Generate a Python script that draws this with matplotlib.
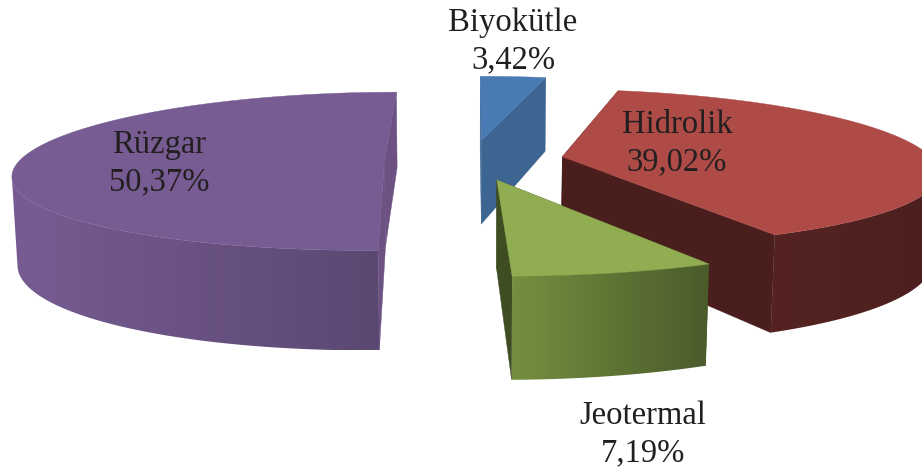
import numpy as np
import matplotlib
matplotlib.use("Agg")
import matplotlib.pyplot as plt
from matplotlib.colors import to_rgb
from matplotlib.patches import Polygon

# dados
categorias = ["Biyokütle", "Hidrolik", "Jeotermal", "Rüzgar"]
valores = [3.42, 39.02, 7.19, 50.37]

# cores: topo, parede esquerda, parede direita, face de corte
cor_topo = ["#4a7ab3", "#ae4b47", "#90ad52", "#775c93"]
cor_esq = ["#3d6592", "#552422", "#748f40", "#775c93"]
cor_dir = ["#3d6592", "#4c1f1e", "#4a5b2a", "#5b4872"]
cor_corte = ["#3d6592", "#4b1e1e", "#3f4d22", "#6b5283"]
# ordem de desenho (de tras para frente)
ordem = [0, 1, 3, 2]

# centro dos rotulos em pixels
pos_rotulo = [(513, 41), (677, 143), (643, 434), (159, 163)]
# ajuste fino de cada fatia em pixels e largura relativa
ajuste = [(-7, -3), (2, -1), (-4, 3), (-14, 0)]
largura = [1.0, 1.0, 1.0, 0.985]

# parametros da projecao
CX, CY = 480.0, 160.0
SX, SY = 370.0, 77.5
PX, PY = 0.17, 0.14
ALTURA = 86.0
Q = 0.012
EXPLODE = 0.22

plt.rcParams['font.family'] = ['Liberation Serif', 'DejaVu Serif']

fig = plt.figure(figsize=(9.22, 4.76), dpi=100)
ax = fig.add_axes([0, 0, 1, 1])


# Projeta um ponto do disco (x, y) na tela; z=0 topo, z=1 base
def projeta(x, y, z=0.0):
    sx = CX + SX * x / (1 + PX * y + Q * z)
    sy = CY - SY * y / (1 + PY * y) + ALTURA * z / (1 + PY * y)
    return sx, sy


def poligono(pontos, cor, zorder):
    ax.add_patch(Polygon(pontos, closed=True, facecolor=cor, edgecolor=cor,
                         lw=0.3, zorder=zorder))


inicio = np.cumsum([0] + valores[:-1]) / sum(valores) * 2 * np.pi
fim = np.cumsum(valores) / sum(valores) * 2 * np.pi

z = 1
for i in ordem:
    a0, a1 = inicio[i], fim[i]
    meio = (a0 + a1) / 2
    ox = EXPLODE * np.sin(meio)
    oy = EXPLODE * np.cos(meio)
    dx, dy = ajuste[i]
    t = np.linspace(a0, a1, 200)
    xs = ox + largura[i] * np.sin(t)
    ys = oy + np.cos(t)

    def ponto(x, y, nivel=0.0):
        px, py = projeta(x, y, nivel)
        return px + dx, py + dy

    # faces de corte
    for a in (a0, a1):
        bx, by = ox + largura[i] * np.sin(a), oy + np.cos(a)
        poligono([ponto(ox, oy), ponto(bx, by), ponto(bx, by, 1), ponto(ox, oy, 1)],
                 cor_corte[i], z)
        z += 1

    # parede externa com gradiente horizontal, so ate o extremo lateral da fatia
    tela = np.array([ponto(a, b)[0] for a, b in zip(xs, ys)])
    frente = np.cos(t) < 0.05
    if np.sin(meio) < 0:
        frente &= t <= t[np.argmin(tela)]
    else:
        frente &= t >= t[np.argmax(tela)]
    if frente.any():
        cima = [ponto(a, b) for a, b in zip(xs[frente], ys[frente])]
        baixo = [ponto(a, b, 1) for a, b in zip(xs[frente], ys[frente])]
        contorno = cima + baixo[::-1]
        c = np.array(contorno)
        e, d = c[:, 0].min(), c[:, 0].max()
        f = np.linspace(0, 1, 256)[None, :, None]
        c0, c1 = np.array(to_rgb(cor_esq[i])), np.array(to_rgb(cor_dir[i]))
        img = c0[None, None, :] + (c1 - c0)[None, None, :] * f
        im = ax.imshow(img, extent=(e, d, c[:, 1].max(), c[:, 1].min()),
                       aspect="auto", zorder=z, interpolation="bilinear")
        im.set_clip_path(Polygon(contorno, closed=True, transform=ax.transData))
        z += 1

    # topo
    topo = [ponto(ox, oy)] + [ponto(a, b) for a, b in zip(xs, ys)]
    poligono(topo, cor_topo[i], z)
    z += 1

for i in range(len(categorias)):
    texto = categorias[i] + "\n" + f"{valores[i]:.2f}".replace(".", ",") + "%"
    ax.text(pos_rotulo[i][0], pos_rotulo[i][1], texto, ha="center", va="center",
            fontsize=23.5, color="#231f20", linespacing=1.28, zorder=z)

ax.set_xlim(0, 922)
ax.set_ylim(476, 0)
ax.axis("off")

fig.savefig("out.png", dpi=100)
